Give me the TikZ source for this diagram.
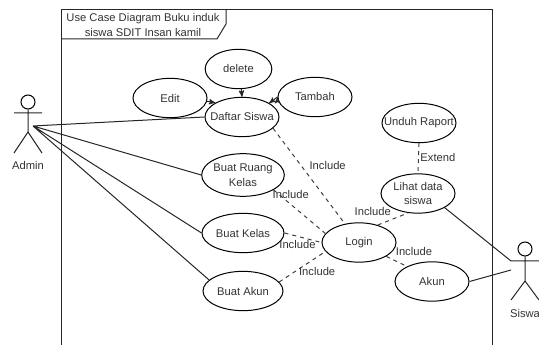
\documentclass[tikz,border=0pt]{standalone}
\usepackage{fontspec}
\setmainfont{Liberation Sans}
\usetikzlibrary{shapes.geometric, positioning, arrows}
\tikzset{
>=stealth', % bold arrow heads
node distance=43.5pt, % centre to centre in the column of use cases
every node/.style={font=\fontsize{8.4pt}{11pt}\selectfont, text=black!80},
usecase/.style={ellipse, draw, line width=0.75pt, inner xsep=-8pt, inner ysep=0pt, align=center, minimum width=55.5pt, minimum height=29.5pt}, % sets the properties for each use case
actorline/.style={draw, line width=0.75pt, black!85},
include/.style={dashed, line width=0.75pt, black!75},
}

\begin{document}
\begin{tikzpicture}[x=0.75pt, y=-0.75pt]
                \useasboundingbox (0,0) rectangle (539,345);
                % frame and title
                \draw[actorline] (61,345) -- (61,10) -- (492,10) -- (492,345);
                \draw[actorline] (61,39) -- (217,39) -- (226,24) -- (226,10);
                \node[align=center] (title) at (143,25) {Use Case Diagram Buku induk\\siswa SDIT Insan kamil};

                % use cases
                \node[usecase] (daftar) at (242,117) {Daftar Siswa};
                \node[usecase, below of=daftar, minimum width=62pt, minimum height=32pt, xshift=0.75pt] (ruang) {Buat Ruang\\Kelas};
                \node[usecase, below of=ruang, minimum width=61.5pt] (kelas) {Buat Kelas};
                \node[usecase, below of=kelas, minimum width=60pt] (akunbuat) {Buat Akun};
                \node[usecase, minimum width=50pt] (delete) at (238.5,69) {delete};
                \node[usecase] (edit) at (170,98) {Edit};
                \node[usecase] (tambah) at (315,97) {Tambah};
                \node[usecase] (login) at (359,242.5) {Login};
                \node[usecase] (unduh) at (419,123) {Unduh Raport};
                \node[usecase] (lihat) at (418,193.5) {Lihat data\\siswa};
                \node[usecase] (akun) at (432,281.5) {Akun};

                % actors
                \node[circle, draw, line width=0.75pt, minimum size=10.5pt, inner sep=0pt] (adminhead) at (28,102) {};
                \coordinate (adminhip) at (28,132);
                \coordinate (adminhand) at (33,126);
                \draw[actorline] (adminhead) -- (adminhip) (14,113) -- (42,113) (14,153) -- (adminhip) -- (42,153);
                \node (adminlabel) at (28,165) {Admin};
                \node[circle, draw, line width=0.75pt, minimum size=10.5pt, inner sep=0pt] (siswahead) at (525,249) {};
                \coordinate (siswahip) at (525,281);
                \coordinate (siswaarm) at (511,261);
                \coordinate (siswahand) at (511,270);
                \draw[actorline] (siswahead) -- (siswahip) (siswaarm) -- (539,261) (511,300) -- (siswahip) -- (539,300);
                \node (siswalabel) at (525,313) {Siswa};

                \draw[actorline]
                    (adminhand) -- (daftar.west)
                    (adminhand) -- (ruang.west)
                    (adminhand) -- (kelas.west)
                    (adminhand) -- (akunbuat.162)
                    (lihat.-28) -- (siswaarm)
                    (akun.east) -- (siswahand)
                    ;
                \draw[line width=0.75pt, black!85, ->]
                    (edit.-5) edge (daftar.152)
                    (delete.-82) edge (daftar.north)
                    (tambah.west) edge (daftar.27)
                    ;
                \draw[include]
                    (daftar.-20) edge node[pos=0.5, xshift=14pt, yshift=8pt]{Include} (login.127)
                    (ruang.-26) edge node[pos=0.28, xshift=2pt, yshift=6pt]{Include} (login.165)
                    (kelas.east) edge node[pos=0.35, yshift=-6pt]{Include} (login.180)
                    (akunbuat.14) edge node[pos=0.85, yshift=-11.5pt, xshift=-1pt]{Include} (login.195)
                    (login.43) edge node[pos=0.1, yshift=9pt, xshift=-6pt]{Include} (lihat.243)
                    (login.-27) edge node[pos=0.5, yshift=7.5pt, xshift=13pt]{Include} (akun.149)
                    (unduh.south) edge node[pos=0.47, xshift=14.5pt]{Extend} (lihat.north)
                    ;
                \end{tikzpicture}
\end{document}
